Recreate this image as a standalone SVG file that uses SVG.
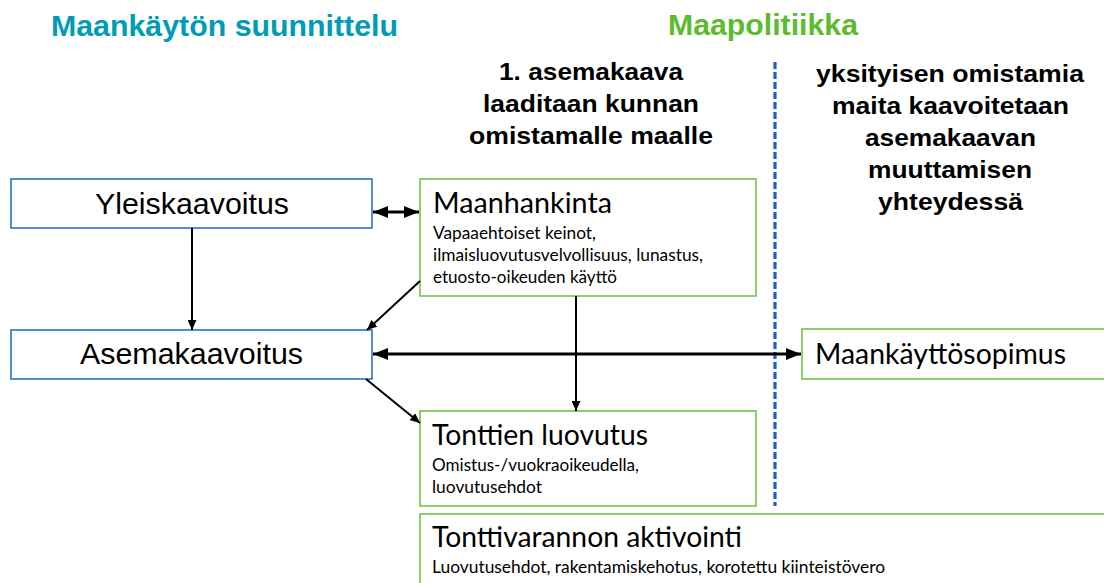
<svg xmlns="http://www.w3.org/2000/svg" width="1104" height="583" viewBox="0 0 1104 583">
<style>
.bg{fill:#ffffff}
.bbox{fill:#ffffff;stroke:#2A72C6;stroke-width:1.6}
.gbox{fill:#ffffff;stroke:#72C145;stroke-width:1.6}
.ar{font-family:"Liberation Sans",Arial,sans-serif;fill:#000}
.big{font-size:30px}
.hd{font-family:"Liberation Sans",Arial,sans-serif;font-weight:bold;font-size:30px}
.bold{font-family:"Liberation Sans",Arial,sans-serif;font-weight:bold;font-size:24px;fill:#000}
.cal{font-family:Lato,"Open Sans",sans-serif;fill:#000}
.t1{font-size:28px}
.t2{font-size:17px}
.thin{stroke:#000;stroke-width:2;fill:none}
.thick{stroke:#000;stroke-width:3.2;fill:none}
.dash{stroke:#1F5FC4;stroke-width:3.2;stroke-dasharray:7 3;fill:none}
</style>
<defs>
<marker id="ah" markerUnits="userSpaceOnUse" viewBox="0 0 10 9" refX="10" refY="4.5" markerWidth="10" markerHeight="9" orient="auto-start-reverse">
<path d="M0,0 L10,4.5 L0,9 z" fill="#000"/>
</marker>
<marker id="ahb" markerUnits="userSpaceOnUse" viewBox="0 0 15 12" refX="15" refY="6" markerWidth="15" markerHeight="12" orient="auto-start-reverse">
<path d="M0,0 L15,6 L0,12 z" fill="#000"/>
</marker>
</defs>
<rect class="bg" x="0" y="0" width="1104" height="583"/>

<g id="headings">
<text class="hd" x="51" y="36" fill="#009CB6" textLength="347" lengthAdjust="spacingAndGlyphs">Maankäytön suunnittelu</text>
<text class="hd" x="668" y="35" fill="#5CBB2E" textLength="190" lengthAdjust="spacingAndGlyphs">Maapolitiikka</text>
</g>

<g id="note-left">
<text class="bold" x="499" y="80" textLength="184" lengthAdjust="spacingAndGlyphs">1. asemakaava</text>
<text class="bold" x="483" y="112" textLength="216" lengthAdjust="spacingAndGlyphs">laaditaan kunnan</text>
<text class="bold" x="469" y="144" textLength="244" lengthAdjust="spacingAndGlyphs">omistamalle maalle</text>
</g>

<g id="note-right">
<text class="bold" x="816" y="82" textLength="268" lengthAdjust="spacingAndGlyphs">yksityisen omistamia</text>
<text class="bold" x="832" y="114" textLength="237" lengthAdjust="spacingAndGlyphs">maita kaavoitetaan</text>
<text class="bold" x="865" y="146" textLength="171" lengthAdjust="spacingAndGlyphs">asemakaavan</text>
<text class="bold" x="868" y="178" textLength="164" lengthAdjust="spacingAndGlyphs">muuttamisen</text>
<text class="bold" x="878" y="210" textLength="145" lengthAdjust="spacingAndGlyphs">yhteydessä</text>
</g>

<g id="divider">
<line class="dash" x1="775" y1="62" x2="775" y2="506"/>
</g>

<g id="yleiskaavoitus">
<rect class="bbox" x="11" y="179" width="361" height="49"/>
<text class="ar big" x="95" y="214" textLength="194" lengthAdjust="spacingAndGlyphs">Yleiskaavoitus</text>
</g>

<g id="asemakaavoitus">
<rect class="bbox" x="11" y="330" width="361" height="49"/>
<text class="ar big" x="80" y="364" textLength="223" lengthAdjust="spacingAndGlyphs">Asemakaavoitus</text>
</g>

<g id="maanhankinta">
<rect class="gbox" x="420" y="179" width="336" height="117"/>
<text class="cal t1" x="433" y="213" textLength="179" lengthAdjust="spacingAndGlyphs">Maanhankinta</text>
<text class="cal t2" x="433" y="239" textLength="163" lengthAdjust="spacingAndGlyphs">Vapaaehtoiset keinot,</text>
<text class="cal t2" x="433" y="261" textLength="270" lengthAdjust="spacingAndGlyphs">ilmaisluovutusvelvollisuus, lunastus,</text>
<text class="cal t2" x="433" y="283" textLength="184" lengthAdjust="spacingAndGlyphs">etuosto-oikeuden käyttö</text>
</g>

<g id="maankayttosopimus">
<rect class="gbox" x="802" y="329" width="320" height="50"/>
<text class="cal t1" x="815" y="364" textLength="251" lengthAdjust="spacingAndGlyphs">Maankäyttösopimus</text>
</g>

<g id="tonttien-luovutus">
<rect class="gbox" x="420" y="411" width="336" height="95"/>
<text class="cal t1" x="432" y="445" textLength="216" lengthAdjust="spacingAndGlyphs">Tonttien luovutus</text>
<text class="cal t2" x="432" y="471" textLength="207" lengthAdjust="spacingAndGlyphs">Omistus-/vuokraoikeudella,</text>
<text class="cal t2" x="432" y="493" textLength="110" lengthAdjust="spacingAndGlyphs">luovutusehdot</text>
</g>

<g id="tonttivarannon-aktivointi">
<rect class="gbox" x="420" y="514" width="700" height="90"/>
<text class="cal t1" x="432" y="547" textLength="310" lengthAdjust="spacingAndGlyphs">Tonttivarannon aktivointi</text>
<text class="cal t2" x="432" y="573" textLength="453" lengthAdjust="spacingAndGlyphs">Luovutusehdot, rakentamiskehotus, korotettu kiinteistövero</text>
</g>

<g id="connectors">
<line class="thick" x1="373" y1="212" x2="419" y2="212" marker-start="url(#ahb)" marker-end="url(#ahb)"/>
<line class="thin" x1="192" y1="228" x2="192" y2="330" marker-end="url(#ah)"/>
<line class="thin" x1="420" y1="281" x2="367" y2="330" marker-end="url(#ah)"/>
<line class="thin" x1="576" y1="296" x2="576" y2="411" marker-end="url(#ah)"/>
<line class="thin" x1="366" y1="379" x2="420" y2="423" marker-end="url(#ah)"/>
<line class="thick" x1="373" y1="354" x2="801" y2="354" marker-start="url(#ahb)" marker-end="url(#ahb)"/>
</g>
</svg>
